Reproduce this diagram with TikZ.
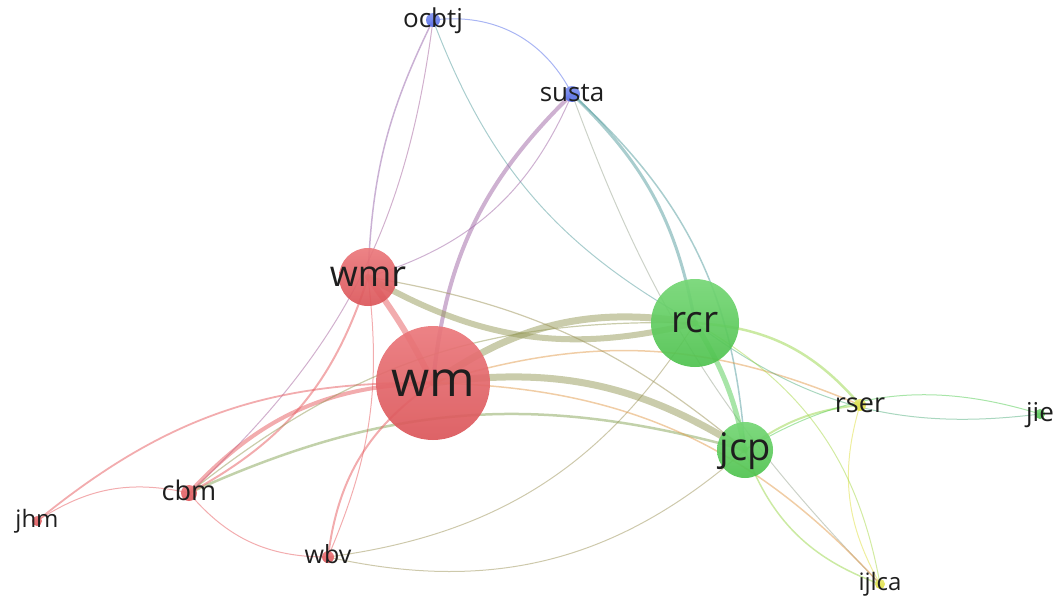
\documentclass[tikz,border=0pt]{standalone}
\usepackage{fontspec}
\setmainfont{Open Sans}
\usetikzlibrary{backgrounds}
\definecolor{vred}{RGB}{230,90,94}
\definecolor{vgreen}{RGB}{82,204,82}
\definecolor{vblue}{RGB}{84,108,232}
\definecolor{vyellow}{RGB}{222,222,60}
\definecolor{ink}{RGB}{30,30,30}
% label centred on the x-height of its dot
\newcommand\lbl[3]{\node[font=\fontsize{#3}{#3}\selectfont, text=ink, anchor=base, inner sep=0pt, yshift=-0.27*#3pt] (#1-t) at (#1.center) {#2};}
\begin{document}
\begin{tikzpicture}[x=1pt, y=-1pt,
   vnode/.style={circle, inner sep=0pt, minimum size=#1, fill opacity=0.92},
   rednode/.style={vnode=#1, top color=vred!82!white, bottom color=vred!95!black},
   greennode/.style={vnode=#1, top color=vgreen!80!white, bottom color=vgreen!95!black},
   bluenode/.style={vnode=#1, top color=vblue!75!white, bottom color=vblue},
   yellownode/.style={vnode=#1, top color=vyellow!75!white, bottom color=vyellow},
   link/.style={line width=#1, draw opacity=0.5, line cap=round},
   link/.default=1pt]
   \useasboundingbox (0,0) rectangle (1056,599);
   \node[rednode=114pt]    (wm)    at (433,383) {};
   \node[rednode=58pt]     (wmr)   at (368,277) {};
   \node[rednode=16pt]     (cbm)   at (189,493) {};
   \node[rednode=10pt]     (jhm)   at (37,521)  {};
   \node[rednode=12pt]     (wbv)   at (328,557) {};
   \node[greennode=88pt]   (rcr)   at (695,323) {};
   \node[greennode=56pt]   (jcp)   at (745,450) {};
   \node[greennode=10pt]   (jie)   at (1040,414) {};
   \node[bluenode=14pt]    (ocbtj) at (433,20)  {};
   \node[bluenode=16pt]    (susta) at (572,94)  {};
   \node[yellownode=12pt]  (rser)  at (860,405) {};
   \node[yellownode=10pt]  (ijlca) at (880,584) {};
   \begin{scope}[on background layer]
   % blue
   \draw[link, vblue] (ocbtj.center) to[bend left=35] (susta.center);
   \draw[link=1.5pt, vblue!55!vred] (ocbtj.center) to[bend right=12] (wmr.center);
   \draw[link, vblue!45!vred] (ocbtj.center) to[bend left=20] (cbm.center);
   \draw[link, vblue!50!vgreen] (ocbtj.center) to[bend right=20] (rcr.center);
   \draw[link=4pt, vblue!50!vred] (susta.center) to[bend right=20] (wm.center);
   \draw[link, vblue!50!vred] (susta.center) to[bend left=25] (wmr.center);
   \draw[link=3pt, vblue!50!vgreen] (susta.center) to[bend left=18] (rcr.center);
   \draw[link=1.5pt, vblue!50!vgreen] (susta.center) to[bend left=22] (jcp.center);
   \draw[link, vblue!50!vyellow] (susta.center) to[bend right=12] (ijlca.center);
   % red
   \draw[link=6pt, vred] (wmr.center) to[bend left=5] (wm.center);
   \draw[link=6pt, vred!45!vgreen] (wmr.center) to[bend right=22] (rcr.center);
   \draw[link=7pt, vred!45!vgreen] (wm.center) to[bend left=22] (rcr.center);
   \draw[link=7pt, vred!45!vgreen] (wm.center) to[bend left=20] (jcp.center);
   \draw[link=2.5pt, vred!35!vgreen] (cbm.center) to[bend left=20] (jcp.center);
   \draw[link, vred!50!vgreen] (wbv.center) to[bend right=25] (rcr.center);
   \draw[link, vred!50!vgreen] (wbv.center) to[bend right=27] (jcp.center);
   \draw[link=2pt, vred] (wbv.center) to[bend left=24] (wm.center);
   \draw[link, vred] (wbv.center) to[bend right=15] (wmr.center);
   \draw[link, vred] (cbm.center) to[bend right=25] (wbv.center);
   \draw[link, vred] (jhm.center) to[bend left=23] (cbm.center);
   \draw[link=1.8pt, vred] (jhm.center) to[bend left=20] (wm.center);
   \draw[link=4pt, vred] (cbm.center) to[bend left=23] (wm.center);
   \draw[link=2pt, vred] (cbm.center) to[bend right=22] (wmr.center);
   \draw[link=1.2pt, vred!45!vgreen] (cbm.center) to[bend left=20] (rcr.center);
   \draw[link=1.5pt, vred!50!vyellow] (wm.center) to[bend left=20] (rser.center);
   \draw[link=1.5pt, vred!50!vyellow] (wm.center) to[bend left=23] (ijlca.center);
   \draw[link=1.2pt, vred!50!vgreen] (wmr.center) to[bend left=15] (jcp.center);
   % green and yellow
   \draw[link=5pt, vgreen] (rcr.center) to[bend left=10] (jcp.center);
   \draw[link=2.5pt, vgreen!50!vyellow] (rcr.center) to[bend left=23] (rser.center);
   \draw[link=2pt, vgreen!50!vyellow] (jcp.center) to[bend left=15] (rser.center);
   \draw[link, vgreen] (jcp.center) to[bend left=24] (jie.center);
   \draw[link, vgreen!70!vblue] (rcr.center) to[bend right=22] (jie.center);
   \draw[link=1.5pt, vgreen!50!vyellow] (jcp.center) to[bend right=25] (ijlca.center);
   \draw[link, vyellow] (rser.center) to[bend right=23] (ijlca.center);
   \draw[link, vgreen!40!vyellow] (rcr.center) to[bend left=25] (ijlca.center);
   \end{scope}
   \lbl{wm}{wm}{49}
   \lbl{wmr}{wmr}{36}
   \lbl{rcr}{rcr}{37}
   \lbl{jcp}{jcp}{38}
   \lbl{cbm}{cbm}{27}
   \lbl{jhm}{jhm}{24}
   \lbl{wbv}{wbv}{25}
   \lbl{ocbtj}{ocbtj}{26}
   \lbl{susta}{susta}{26}
   \lbl{rser}{rser}{27}
   \lbl{jie}{jie}{26}
   \lbl{ijlca}{ijlca}{24}
\end{tikzpicture}
\end{document}
